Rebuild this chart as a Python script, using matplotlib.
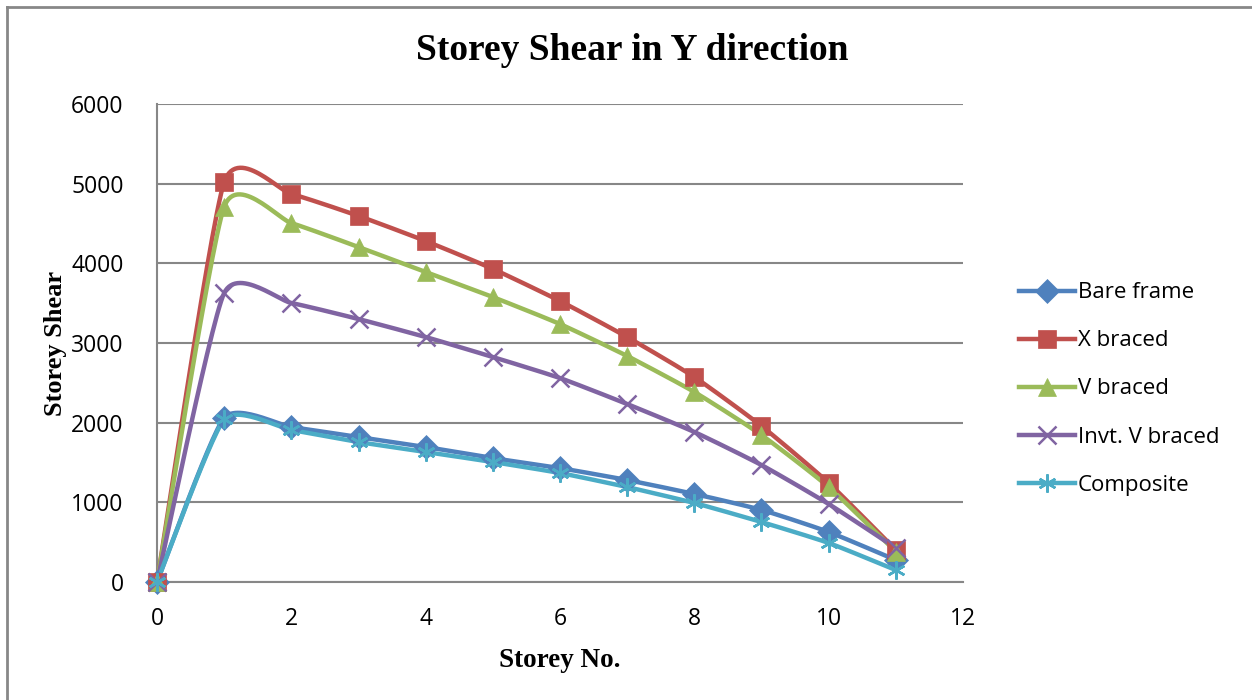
import matplotlib
matplotlib.use("Agg")
import matplotlib.pyplot as plt
import numpy as np
from matplotlib.lines import Line2D

# storey numbers and storey shear values per frame type
storey = [0, 1, 2, 3, 4, 5, 6, 7, 8, 9, 10, 11]
bare_frame = [0, 2060, 1945, 1820, 1695, 1555, 1430, 1280, 1105, 905, 628, 276]
x_braced = [0, 5020, 4870, 4595, 4280, 3930, 3527, 3075, 2573, 1958, 1243, 402]
v_braced = [0, 4710, 4505, 4205, 3890, 3577, 3238, 2837, 2385, 1845, 1192, 380]
invt_v_braced = [0, 3627, 3502, 3301, 3075, 2824, 2560, 2234, 1883, 1468, 979, 427]
composite = [0, 2040, 1908, 1757, 1632, 1506, 1368, 1192, 992, 753, 490, 150]

series = [
    ("Bare frame", bare_frame, "#4F81BD", "D", 12),
    ("X braced", x_braced, "#C0504D", "s", 13),
    ("V braced", v_braced, "#9BBB59", "^", 13),
    ("Invt. V braced", invt_v_braced, "#8064A2", "x", 13),
    ("Composite", composite, "#4BACC6", (6, 2, 0), 13),
]


def smooth(xs, ys, k=0.095, n=30):
    # bezier smoothing through the points, tangents from neighbouring points
    p = np.column_stack([xs, ys]).astype(float)
    out = []
    for i in range(len(p) - 1):
        p0 = p[i - 1] if i > 0 else p[i]
        p1, p2 = p[i], p[i + 1]
        p3 = p[i + 2] if i + 2 < len(p) else p[i + 1]
        c1 = p1 + (p2 - p0) * k
        c2 = p2 - (p3 - p1) * k
        t = np.linspace(0, 1, n)[:, None]
        seg = ((1 - t) ** 3) * p1 + 3 * ((1 - t) ** 2) * t * c1 + 3 * (1 - t) * t ** 2 * c2 + t ** 3 * p2
        out.append(seg if i == 0 else seg[1:])
    pts = np.vstack(out)
    return pts[:, 0], pts[:, 1]


plt.rcParams['font.family'] = ['Open Sans', 'DejaVu Sans']
fig = plt.figure(figsize=(12.52, 7), dpi=100)
ax = fig.add_axes([157 / 1252, 1 - 582 / 700, (963 - 157) / 1252, (582 - 104) / 700])

handles = []
for name, vals, col, mk, ms in series:
    sx, sy = smooth(storey, vals)
    mew = 1.8 if mk in ("x", (6, 2, 0)) else 0.5
    ax.plot(sx, sy, color=col, linewidth=3.2, solid_capstyle='round', zorder=3, clip_on=False)
    ax.plot(storey, vals, linestyle='none', marker=mk, color=col, markersize=ms,
            markeredgewidth=mew, zorder=4, clip_on=False)
    handles.append(Line2D([0], [0], color=col, linewidth=3.2, marker=mk, markersize=ms,
                          markeredgewidth=mew))

ax.set_xlim(0, 12)
ax.set_ylim(0, 6000)
ax.set_xticks(range(0, 13, 2))
ax.set_yticks(range(0, 6001, 1000))
ax.yaxis.grid(True, color='#878787', linewidth=1.5)
ax.set_axisbelow(True)
ax.tick_params(length=0, labelsize=16.5)
ax.tick_params(axis='x', pad=18)
ax.tick_params(axis='y', pad=24)
for side in ('top', 'right'):
    ax.spines[side].set_visible(False)
for side in ('left', 'bottom'):
    ax.spines[side].set_color('#878787')
    ax.spines[side].set_linewidth(1.5)

serif = ['Liberation Serif', 'DejaVu Serif']
ax.set_xlabel("Storey No.", family=serif, fontweight='bold', fontsize=19.5, labelpad=12)
ax.set_ylabel("Storey Shear", family=serif, fontweight='bold', fontsize=19, labelpad=3)
fig.text(0.505, 1 - 50 / 700, "Storey Shear in Y direction", family=serif,
         fontweight='bold', fontsize=27, ha='center', va='center')

fig.legend(handles, [s[0] for s in series], loc='center left',
           bbox_to_anchor=(1008 / 1252, 1 - 389 / 700), frameon=False, fontsize=16,
           handlelength=2.5, handletextpad=0.15, labelspacing=1.22, borderpad=0)

# outer chart border (top and left edges)
fig.add_artist(Line2D([7 / 1252, 7 / 1252], [0, 1 - 7 / 700], color='#878787', linewidth=2))
fig.add_artist(Line2D([7 / 1252, 1], [1 - 7 / 700, 1 - 7 / 700], color='#878787', linewidth=2))

fig.savefig("out.png", dpi=100)
